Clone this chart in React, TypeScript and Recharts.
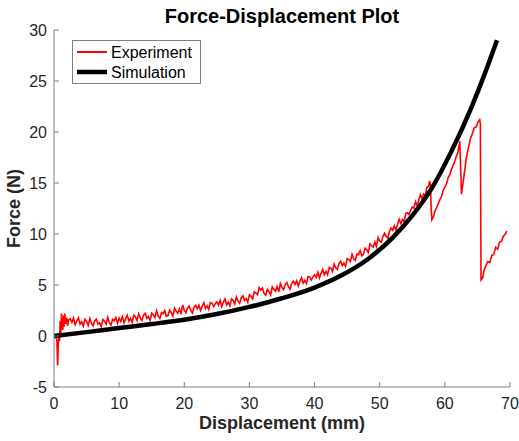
import React from 'react';
import { LineChart, Line, XAxis, YAxis, Legend } from 'recharts';

const AXIS = '#7f7f7f';
const TEXT = '#262626';
const FONT = '"Liberation Sans", Arial, Helvetica, sans-serif';

const xTicks = [0, 10, 20, 30, 40, 50, 60, 70];
const yTicks = [-5, 0, 5, 10, 15, 20, 25, 30];

// simulation curve (mm, N)
const simDisp = [0, 5, 10, 15, 20, 25, 30, 35, 40, 44, 48, 52, 55, 58, 61, 64, 66, 68];
const simForce = [0, 0.38, 0.78, 1.17, 1.6, 2.15, 2.85, 3.7, 4.75, 5.9, 7.45, 9.65, 11.8, 14.5, 18.1, 22.3, 25.5, 29.0];

const experiment: [number, number][] = [
  [0.3, 0.0], [0.45, -0.5], [0.55, -2.9], [0.65, -1.0], [0.75, 0.3], [0.85, -0.5], [0.95, 1.5],
  [1.05, 0.2], [1.15, 2.2], [1.25, 1.0], [1.35, 0.6], [1.45, 2.0], [1.55, 0.9], [1.65, 2.2],
  [1.8, 1.2], [1.95, 1.8], [2.1, 1.0], [2.25, 1.6],
  [2.5, 1.7], [2.75, 1.34], [3.0, 1.77], [3.25, 1.11], [3.5, 1.49], [3.75, 1.78], [4.0, 1.16],
  [4.25, 1.4], [4.5, 0.98], [4.75, 1.62], [5.0, 1.45], [5.25, 1.05], [5.5, 1.7], [5.75, 1.25],
  [6.0, 1.0], [6.25, 1.5], [6.5, 1.65], [6.75, 1.15], [7.0, 1.3], [7.25, 0.92], [7.5, 1.63],
  [7.75, 1.45], [8.0, 1.17], [8.25, 1.83], [8.5, 1.3], [8.75, 1.07], [9.0, 1.63], [9.25, 1.5],
  [9.5, 1.82], [9.75, 1.23], [10.0, 1.75], [10.25, 1.43], [10.5, 1.9], [10.75, 1.28], [11.0, 1.7],
  [11.25, 2.03], [11.5, 1.45], [11.75, 1.73], [12.0, 1.35], [12.25, 2.03], [12.5, 1.9], [12.75, 1.52],
  [13.0, 2.19], [13.25, 1.76], [13.5, 1.53], [13.75, 2.05], [14.0, 2.22], [14.25, 1.74], [14.5, 1.91],
  [14.75, 1.53], [15.0, 2.25], [15.25, 2.08], [15.5, 1.8], [15.75, 2.48], [16.0, 1.95], [16.25, 1.73],
  [16.5, 2.3], [16.75, 2.18], [17.0, 2.5], [17.25, 1.93], [17.5, 2.0], [17.75, 2.53], [18.0, 2.31],
  [18.25, 1.94], [18.5, 2.72], [18.75, 2.45], [19.0, 2.23], [19.25, 2.66], [19.5, 2.14], [19.75, 3.05],
  [20.0, 2.5], [20.25, 2.28], [20.5, 2.76], [20.75, 2.94], [21.0, 2.52], [21.25, 2.25], [21.5, 2.83],
  [21.75, 3.01], [22.0, 2.69], [22.25, 3.02], [22.5, 2.5], [22.75, 2.93], [23.0, 3.26], [23.25, 2.69],
  [23.5, 2.97], [23.75, 2.6], [24.0, 3.28], [24.25, 3.21], [24.5, 2.89], [24.75, 3.17], [25.0, 3.35],
  [25.25, 3.03], [25.5, 3.5], [25.75, 2.88], [26.0, 3.3], [26.25, 3.63], [26.5, 3.05], [26.75, 3.33],
  [27.0, 2.95], [27.25, 3.63], [27.5, 3.5], [27.75, 3.14], [28.0, 3.83], [28.25, 3.42], [28.5, 3.21],
  [28.75, 3.75], [29.0, 3.94], [29.25, 3.48], [29.5, 3.67], [29.75, 3.31], [30.0, 4.05], [30.25, 3.9],
  [30.5, 3.64], [30.75, 4.34], [31.0, 4.2], [31.25, 4.05], [31.5, 4.75], [31.75, 4.5], [32.0, 4.7],
  [32.25, 4.15], [32.5, 4.0], [32.75, 4.56], [33.0, 4.36], [33.25, 4.02], [33.5, 4.82], [33.75, 4.58],
  [34.0, 4.38], [34.25, 4.84], [34.5, 4.34], [34.75, 5.15], [35.0, 4.75], [35.25, 4.55], [35.5, 5.04],
  [35.75, 5.24], [36.0, 4.83], [36.25, 4.58], [36.5, 5.17], [36.75, 5.37], [37.0, 5.06], [37.25, 5.41],
  [37.5, 4.9], [37.75, 5.36], [38.0, 5.71], [38.25, 5.17], [38.5, 5.47], [38.75, 5.13], [39.0, 5.83],
  [39.25, 5.79], [39.5, 5.49], [39.75, 5.8], [40.0, 6.0], [40.25, 5.73], [40.5, 6.25], [40.75, 5.68],
  [41.0, 6.15], [41.25, 6.53], [41.5, 6.0], [41.75, 6.33], [42.0, 6.0], [42.25, 6.73], [42.5, 6.65],
  [42.75, 6.33], [43.0, 7.06], [43.25, 6.69], [43.5, 6.52], [43.75, 7.1], [44.0, 7.33], [44.25, 6.91],
  [44.5, 7.14], [44.75, 6.82], [45.0, 7.6], [45.25, 7.49], [45.5, 7.28], [45.75, 8.02], [46.0, 7.56],
  [46.25, 7.4], [46.5, 8.04], [46.75, 7.98], [47.0, 8.37], [47.25, 7.86], [47.5, 8.0], [47.75, 8.61],
  [48.0, 8.47], [48.25, 8.18], [48.5, 9.04], [48.75, 8.85], [49.0, 8.71], [49.25, 9.22], [49.5, 8.78],
  [49.75, 9.64], [50.0, 9.3], [50.25, 9.19], [50.5, 9.78], [50.75, 10.07], [51.0, 9.76], [51.25, 9.6],
  [51.5, 10.29], [51.75, 10.58], [52.0, 10.37], [52.25, 10.81], [52.5, 10.4], [52.75, 10.97],
  [53.0, 11.44], [53.25, 11.01], [53.5, 11.43], [53.75, 11.2], [54.0, 12.02], [54.25, 12.09],
  [54.5, 11.91], [54.75, 12.33], [55.0, 12.65], [55.25, 12.51], [55.5, 13.17], [55.75, 12.73],
  [56.0, 13.34], [56.25, 13.85], [56.5, 13.46], [56.75, 13.92], [57.0, 13.73], [57.25, 14.59],
  [57.5, 14.65], [57.65, 15.2], [57.8, 14.8], [57.9, 12.5], [58.0, 11.4],
  [58.25, 11.7], [58.5, 12.3], [58.75, 12.6], [59.0, 13.0], [59.25, 13.4], [59.5, 13.7], [59.75, 14.3],
  [60.0, 14.6], [60.25, 14.9], [60.5, 15.5], [60.75, 15.8], [61.0, 16.3], [61.25, 16.7], [61.5, 17.1],
  [61.75, 17.6], [62.0, 18.0], [62.2, 18.7], [62.3, 19.1], [62.4, 17.0], [62.55, 13.9],
  [62.7, 14.6], [63.0, 16.0], [63.3, 17.5], [63.6, 18.4], [63.9, 19.3], [64.2, 19.8], [64.5, 20.4],
  [64.8, 20.5], [65.1, 21.0], [65.35, 21.2], [65.45, 20.8], [65.55, 5.5], [65.8, 5.7],
  [66.0, 6.4], [66.3, 6.9], [66.6, 7.3], [66.9, 7.2], [67.2, 7.9], [67.5, 8.0], [67.8, 8.7],
  [68.1, 8.5], [68.4, 9.2], [68.7, 9.3], [69.0, 9.8], [69.3, 10.0], [69.5, 10.3],
];

const simData = simDisp.map((x, i) => ({ x, y: simForce[i] }));
const expData = experiment.map(([x, y]) => ({ x, y }));

const BottomTick = ({ x, y, payload }: any) => (
  <g>
    <line x1={x} y1={y} x2={x} y2={y - 5} stroke={AXIS} />
    <text x={x} y={y + 21.5} textAnchor="middle" fontSize={16} fontFamily={FONT} fill={TEXT}>
      {payload.value}
    </text>
  </g>
);

const LeftTick = ({ x, y, payload }: any) => (
  <g>
    <line x1={x} y1={y} x2={x + 5} y2={y} stroke={AXIS} />
    <text x={x - 7} y={y + 5.5} textAnchor="end" fontSize={16} fontFamily={FONT} fill={TEXT}>
      {payload.value}
    </text>
  </g>
);

const TopTick = ({ x, y }: any) => <line x1={x} y1={y} x2={x} y2={y + 5} stroke={AXIS} />;
const RightTick = ({ x, y }: any) => <line x1={x} y1={y} x2={x - 5} y2={y} stroke={AXIS} />;

const LegendBox = () => (
  <svg width={129} height={44} style={{ display: 'block' }}>
    <rect x={0.5} y={0.5} width={128} height={43} fill="#fff" stroke={AXIS} />
    <line x1={5} y1={12} x2={35} y2={12} stroke="#ff0000" strokeWidth={2} />
    <line x1={5} y1={32} x2={35} y2={32} stroke="#000" strokeWidth={4.5} />
    <text x={39} y={17.5} fontSize={16} fontFamily={FONT} fill="#000">Experiment</text>
    <text x={39} y={37.5} fontSize={16} fontFamily={FONT} fill="#000">Simulation</text>
  </svg>
);

export default function App() {
  return (
    <div style={{ position: 'fixed', left: 0, top: 0, width: 519, height: 441, background: '#fff' }}>
      <LineChart width={519} height={441} margin={{ top: 30, right: 9, bottom: 0, left: 0 }}>
        <XAxis
          xAxisId="b"
          dataKey="x"
          type="number"
          domain={[0, 70]}
          ticks={xTicks}
          interval={0}
          height={54}
          tickSize={0}
          tickMargin={0}
          tickLine={false}
          tick={<BottomTick />}
          axisLine={{ stroke: AXIS }}
          allowDataOverflow
        />
        <XAxis
          xAxisId="t"
          orientation="top"
          dataKey="x"
          type="number"
          domain={[0, 70]}
          ticks={xTicks}
          interval={0}
          height={0}
          tickSize={0}
          tickMargin={0}
          tickLine={false}
          tick={<TopTick />}
          axisLine={{ stroke: AXIS }}
          allowDataOverflow
        />
        <YAxis
          yAxisId="l"
          type="number"
          domain={[-5, 30]}
          ticks={yTicks}
          interval={0}
          width={54}
          tickSize={0}
          tickMargin={0}
          tickLine={false}
          tick={<LeftTick />}
          axisLine={{ stroke: AXIS }}
          allowDataOverflow
        />
        <YAxis
          yAxisId="r"
          orientation="right"
          type="number"
          domain={[-5, 30]}
          ticks={yTicks}
          interval={0}
          width={0}
          tickSize={0}
          tickMargin={0}
          tickLine={false}
          tick={<RightTick />}
          axisLine={{ stroke: AXIS }}
          allowDataOverflow
        />
        <Line
          xAxisId="b"
          yAxisId="l"
          data={expData}
          dataKey="y"
          name="Experiment"
          stroke="#ff0000"
          strokeWidth={1.6}
          dot={false}
          type="linear"
          isAnimationActive={false}
        />
        <Line
          xAxisId="b"
          yAxisId="l"
          data={simData}
          dataKey="y"
          name="Simulation"
          stroke="#000000"
          strokeWidth={4.5}
          dot={false}
          type="monotone"
          isAnimationActive={false}
        />
        <Legend
          layout="horizontal"
          verticalAlign="middle"
          align="center"
          content={<LegendBox />}
          wrapperStyle={{ left: 72, top: 40, width: 129, height: 44 }}
        />
        <text x={282} y={22.5} textAnchor="middle" fontSize={20} fontWeight="bold" fontFamily={FONT} fill="#000">
          Force-Displacement Plot
        </text>
        <text x={282} y={429} textAnchor="middle" fontSize={18} fontWeight="bold" fontFamily={FONT} fill={TEXT}>
          Displacement (mm)
        </text>
        <text
          x={20}
          y={208.5}
          transform="rotate(-90 20 208.5)"
          textAnchor="middle"
          fontSize={18}
          fontWeight="bold"
          fontFamily={FONT}
          fill={TEXT}
        >
          Force (N)
        </text>
      </LineChart>
    </div>
  );
}
